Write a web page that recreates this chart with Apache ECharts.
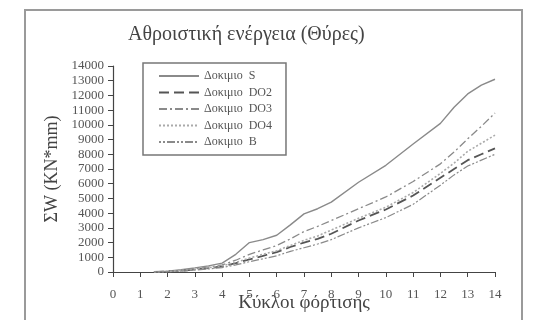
<!DOCTYPE html>
<html><head><meta charset="utf-8">
<script src="https://cdn.jsdelivr.net/npm/echarts@6/dist/echarts.min.js"></script>
<style>html,body{margin:0;padding:0;background:#fff}#c{width:544px;height:320px}</style>
</head><body><div id="c"></div>
<script>
const cycles = [1.5,2,2.5,3,3.5,4,4.5,5,5.5,6,6.5,7,7.5,8,9,10,11,12,12.5,13,13.5,14];
const seriesS   = [0,60,150,280,420,600,1200,2000,2200,2500,3200,3950,4300,4750,6100,7250,8700,10100,11200,12100,12700,13100];
const seriesDO3 = [0,40,110,220,330,480,800,1200,1500,1800,2250,2750,3100,3500,4300,5100,6150,7350,8150,9050,9900,10800];
const seriesDO4 = [0,30,90,190,290,420,650,950,1200,1450,1800,2150,2450,2850,3650,4400,5400,6700,7400,8200,8750,9300];
const seriesDO2 = [0,30,80,170,260,380,600,850,1100,1350,1700,2000,2250,2600,3500,4250,5200,6400,7000,7600,8000,8400];
const seriesB   = [0,20,60,130,210,300,480,700,900,1100,1400,1650,1900,2200,3000,3700,4600,5900,6600,7200,7600,8000];
const legendNames = ['Δοκιμιο  S','Δοκιμιο  DO2','Δοκιμιο  DO3','Δοκιμιο  DO4','Δοκιμιο  B'];
const titleText = 'Αθροιστική ενέργεια (Θύρες)';
const xName = 'Κύκλοι φόρτισης';
const yName = 'ΣW (KN*mm)';

const pairs = arr => cycles.map((c,i)=>[c,arr[i]]);
const font = 'Liberation Serif';
const chart = echarts.init(document.getElementById('c'));
const mk = (name, data, color, width, type) => ({
  name, type:'line', data: pairs(data), symbol:'none', showSymbol:false, smooth:false,
  lineStyle:{color, width, type}, itemStyle:{color}
});
chart.setOption({
  animation:false,
  textStyle:{fontFamily:font},
  graphic:[{type:'rect', shape:{x:25,y:10,width:497,height:320}, style:{fill:'none', stroke:'#9a9a9a', lineWidth:2}}],
  title:{text:titleText, left:123, top:20, textStyle:{fontFamily:font, fontSize:20, fontWeight:'normal', color:'#444'}},
  grid:{left:113, right:49, top:66, bottom:48, containLabel:false, outerBoundsMode:'none'},
  legend:{
    orient:'vertical', left:143, top:63, itemWidth:40, itemHeight:10, itemGap:4.5,
    padding:[7,14,7,15], borderColor:'#777', borderWidth:1.5,
    itemStyle:{opacity:0},
    textStyle:{fontFamily:font, fontSize:12, color:'#555'},
    data:legendNames
  },
  xAxis:{
    type:'value', min:0, max:14, interval:1,
    name:xName, nameLocation:'middle', nameGap:22, nameMoveOverlap:false,
    nameTextStyle:{fontFamily:font, fontSize:19, color:'#444'},
    axisLine:{lineStyle:{color:'#444', width:1.2}},
    axisTick:{show:true, length:5, lineStyle:{color:'#444'}},
    axisLabel:{fontFamily:font, fontSize:13, color:'#555', margin:16},
    splitLine:{show:false}
  },
  yAxis:{
    type:'value', min:0, max:14000, interval:1000,
    name:yName, nameLocation:'middle', nameGap:52, nameRotate:90, nameMoveOverlap:false,
    nameTextStyle:{fontFamily:font, fontSize:18, color:'#444'},
    axisLine:{show:true, lineStyle:{color:'#444', width:1.2}},
    axisTick:{show:true, length:5, lineStyle:{color:'#444'}},
    axisLabel:{fontFamily:font, fontSize:13, color:'#555', margin:9, formatter: v => String(v)},
    splitLine:{show:false}
  },
  series:[
    mk(legendNames[0], seriesS, '#8a8a8a', 1.4, 'solid'),
    mk(legendNames[1], seriesDO2, '#555', 1.8, [10,5]),
    mk(legendNames[2], seriesDO3, '#8a8a8a', 1.3, [8,3,2,3]),
    mk(legendNames[3], seriesDO4, '#aaaaaa', 1.6, [2,2]),
    mk(legendNames[4], seriesB, '#8a8a8a', 1.2, [2,2,2,2,8,2])
  ]
});
</script></body></html>
